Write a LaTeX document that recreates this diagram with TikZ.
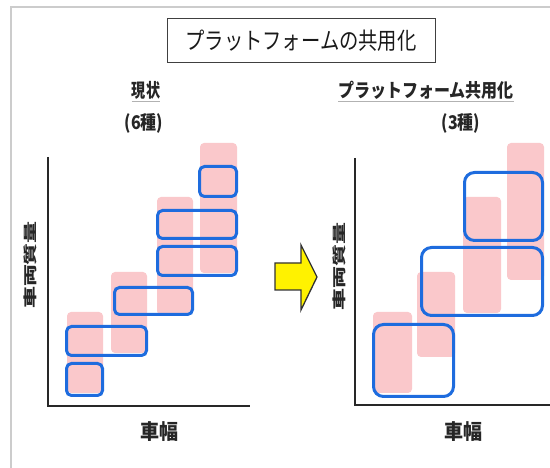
\documentclass[tikz,border=0pt]{standalone}
\usepackage{fontspec}
\newfontfamily\jp{Noto Sans CJK JP}
\definecolor{boxblue}{RGB}{30,108,222}
\definecolor{pinkc}{RGB}{250,200,203}
\definecolor{axisgray}{RGB}{40,40,40}
\begin{document}
\begin{tikzpicture}[x=1pt,y=-1pt,
  pinkcol/.style={fill=pinkc, draw=none, rounded corners=4pt},
  sbox/.style={draw=boxblue, line width=3pt, rounded corners=5pt},
  bbox/.style={draw=boxblue, line width=3pt, rounded corners=10pt},
  axisline/.style={draw=axisgray, line width=2pt},
  lbl/.style={font=\jp\bfseries\fontsize{16}{18}\selectfont, text=black!85, inner sep=0pt},
  ulin/.style={draw=gray!60, line width=0.8pt},
]
\useasboundingbox (0,0) rectangle (550,468);
\clip (0,0) rectangle (550,468);
% outer frame
\draw[gray!40, line width=1.2pt] (11,7) rectangle (600,520);

% title
\node[draw=black!75, line width=1pt, minimum width=268pt, minimum height=44pt, inner sep=0pt,
      font=\jp\fontsize{21}{23}\selectfont, text=black!90] (title) at (301,41)
      {\scalebox{0.92}[1.12]{プラットフォームの共用化}};

% subtitles
\node[lbl] (cur) at (146,90) {\scalebox{0.88}[1.18]{現状}};
\node[lbl] (cur6) at (144,123) {\scalebox{1}[1.18]{(6種)}};
\node[lbl] (plat) at (426,90) {\scalebox{1}[1.18]{プラットフォーム共用化}};
\node[lbl] (plat3) at (461,123) {\scalebox{1}[1.18]{(3種)}};
\draw[ulin] ([yshift=-2pt]cur.south west) -- ([yshift=-2pt]cur.south east);
\draw[ulin] ([yshift=-2pt]plat.south west) -- ([yshift=-2pt]plat.south east);

% ---------- left chart ----------
\fill[pinkcol] (67,312) rectangle (103,393);
\fill[pinkcol] (111,272) rectangle (147,353);
\fill[pinkcol] (157,197) rectangle (193,315);
\fill[pinkcol] (200,143) rectangle (237,273);

\draw[sbox] (66.5,363.5) rectangle (102.5,395.5);
\draw[sbox] (66.5,326.5) rectangle (146.5,355.5);
\draw[sbox] (114.5,287.5) rectangle (192.5,314.5);
\draw[sbox] (157.5,246.5) rectangle (236.5,275.5);
\draw[sbox] (157.5,210.5) rectangle (236.5,238.5);
\draw[sbox] (199.5,166.5) rectangle (236.5,196.5);

\coordinate (LT) at (48,157);
\coordinate (LO) at (48,406);
\coordinate (LR) at (250,406);
\draw[axisline] (LT) -- (LO) -- (LR);

\node[lbl, font=\jp\bfseries\fontsize{22}{24}\selectfont, rotate=90] (ylabL) at (30.5,265)
      {\scalebox{1}[0.62]{車両質量}};
\node[lbl, font=\jp\bfseries\fontsize{19}{21}\selectfont] (xlabL) at (159,432) {\scalebox{1}[1.1]{車幅}};

% ---------- arrow ----------
\draw[fill=yellow, draw=black!80, line width=1.3pt, line join=miter]
  (275,263) -- (301,263) -- (301,245) -- (317,277) -- (301,310) -- (301,290) -- (275,290) -- cycle;

% ---------- right chart ----------
\fill[pinkcol] (373,312) rectangle (412,393);
\fill[pinkcol] (417,272) rectangle (455,357);
\fill[pinkcol] (463,197) rectangle (501,313);
\fill[pinkcol] (507,143) rectangle (544,280);

\draw[bbox] (373.5,324.5) rectangle (453.5,396.5);
\draw[bbox] (421.5,247.5) rectangle (542.5,315.5);
\draw[bbox] (464.5,172.5) rectangle (542.5,240.5);

\coordinate (RT) at (355,158);
\coordinate (RO) at (355,405);
\coordinate (RR) at (560,405);
\draw[axisline] (RT) -- (RO) -- (RR);

\node[lbl, font=\jp\bfseries\fontsize{22}{24}\selectfont, rotate=90] (ylabR) at (339.5,267)
      {\scalebox{1}[0.62]{車両質量}};
\node[lbl, font=\jp\bfseries\fontsize{19}{21}\selectfont] (xlabR) at (463,432) {\scalebox{1}[1.1]{車幅}};
\end{tikzpicture}
\end{document}
